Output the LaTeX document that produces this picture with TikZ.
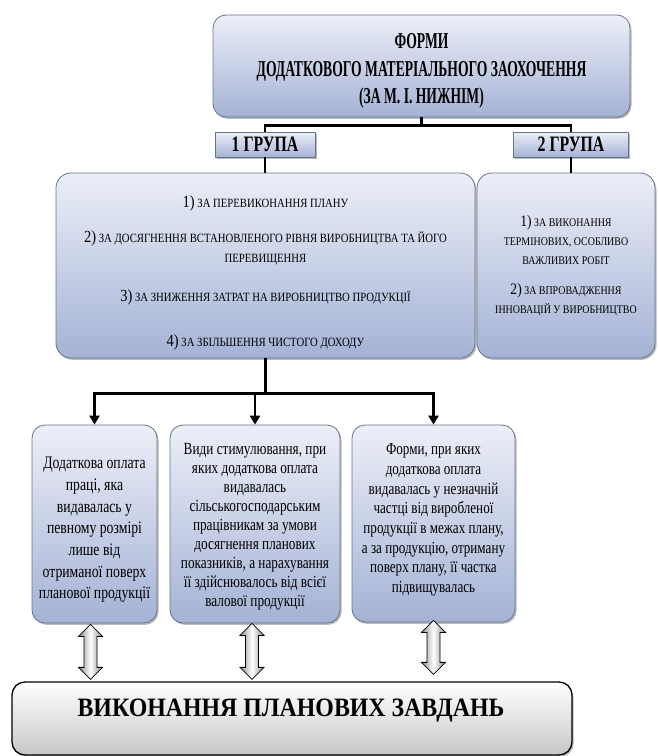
\documentclass[tikz,border=0pt]{standalone}
\usepackage{fontspec}
\setmainfont{Liberation Serif}
\newfontfamily\titlefont{Liberation Serif}[FakeStretch=0.6]
\newfontfamily\grpfont{Liberation Serif}[FakeStretch=0.72]
\newfontfamily\bodyfont{Liberation Serif}[FakeStretch=0.78]
\newfontfamily\capsfont{Liberation Serif}[FakeStretch=0.85]
\newfontfamily\botfont{Liberation Serif}[FakeStretch=0.9]
\usetikzlibrary{shadows,calc,arrows.meta}
\definecolor{btop}{RGB}{236,239,248}
\definecolor{bbot}{RGB}{164,178,213}
\definecolor{bdraw}{RGB}{105,115,135}
\newcommand{\dg}[1]{{\fontsize{17}{20}\selectfont #1}}
\newcommand{\dgs}[1]{{\fontsize{16}{19}\selectfont #1}}
\newcommand{\dblarr}[2]{\draw[dblar] let \p1=(#1), \p2=(#2) in
  (\x1,\y1) -- (\x1-12pt,\y1-12pt) -- (\x1-6.5pt,\y1-12pt) -- (\x1-6.5pt,\y2+12pt)
  -- (\x1-12pt,\y2+12pt) -- (\x1,\y2) -- (\x1+12pt,\y2+12pt) -- (\x1+6.5pt,\y2+12pt)
  -- (\x1+6.5pt,\y1-12pt) -- (\x1+12pt,\y1-12pt) -- cycle;}
\tikzset{
  shad/.style={drop shadow={shadow xshift=1.5pt,shadow yshift=-1.8pt,opacity=0.55}},
  mybox/.style={draw=bdraw, line width=0.8pt, rounded corners=13pt,
    top color=btop, bottom color=bbot, shad, inner sep=0pt},
  grpbox/.style={draw=bdraw, line width=0.8pt, top color=btop, bottom color=bbot,
    shad, inner sep=0pt, font=\grpfont\bfseries\fontsize{22}{24}\selectfont},
  botbox/.style={draw=black, line width=1.3pt, rounded corners=13pt,
    top color=white, bottom color=black!22, shad, inner sep=0pt},
  txt/.style={align=center, inner sep=0pt},
  conn/.style={line width=2.6pt, black},
  arr/.style={conn, -{Triangle[length=9pt,width=10pt]}},
  dblar/.style={draw=black, line width=0.8pt, left color=black!45,
    right color=black!45, middle color=white}
}
\begin{document}
\begin{tikzpicture}[x=1pt,y=-1pt]
\useasboundingbox (0,0) rectangle (658,756);
% boxes
\node[mybox, minimum width=417pt, minimum height=102pt] (title) at (421.5,66) {};
\node[txt, font=\titlefont\bfseries\fontsize{22.7}{27.5}\selectfont] (titlet) at (421.5,71)
  {ФОРМИ\\ДОДАТКОВОГО МАТЕРІАЛЬНОГО ЗАОХОЧЕННЯ\\(ЗА М. І. НИЖНІМ)};
\node[grpbox, minimum width=100pt, minimum height=25pt] (g1) at (265,144.5) {1 ГРУПА};
\node[grpbox, minimum width=115pt, minimum height=25pt] (g2) at (571,144.5) {2 ГРУПА};
\node[mybox, rounded corners=15pt, minimum width=419pt, minimum height=185pt] (big1) at (265.5,265.5) {};
\node[txt, font=\capsfont\fontsize{12.6}{20}\selectfont] (big1t) at (265.5,273)
  {\dg{1)} ЗА ПЕРЕВИКОНАННЯ ПЛАНУ\\[15pt]
   \dg{2)} ЗА ДОСЯГНЕННЯ ВСТАНОВЛЕНОГО РІВНЯ ВИРОБНИЦТВА ТА ЙОГО\\
   ПЕРЕВИЩЕННЯ\\[19pt]
   \dg{3)} ЗА ЗНИЖЕННЯ ЗАТРАТ НА ВИРОБНИЦТВО ПРОДУКЦІЇ\\[25pt]
   \dg{4)} ЗА ЗБІЛЬШЕННЯ ЧИСТОГО ДОХОДУ};
\node[mybox, rounded corners=15pt, minimum width=178pt, minimum height=185pt] (big2) at (566,265.5) {};
\node[txt, font=\capsfont\fontsize{11.7}{19}\selectfont] (big2t) at (566,265.5)
  {\dgs{1)} ЗА ВИКОНАННЯ\\ ТЕРМІНОВИХ, ОСОБЛИВО\\ ВАЖЛИВИХ РОБІТ\\[11pt]
   \dgs{2)} ЗА ВПРОВАДЖЕННЯ\\ ІННОВАЦІЙ У ВИРОБНИЦТВО};
\node[mybox, minimum width=125pt, minimum height=198pt] (A) at (94.5,524) {};
\node[txt, font=\bodyfont\fontsize{17.6}{21.7}\selectfont] (At) at (94.5,530)
  {Додаткова оплата\\праці, яка\\видавалась у\\певному розмірі\\лише від\\отриманої поверх\\планової продукції};
\node[mybox, minimum width=170pt, minimum height=198pt] (B) at (255,524) {};
\node[txt, font=\bodyfont\fontsize{17}{19}\selectfont] (Bt) at (255,527)
  {Види стимулювання, при\\яких додаткова оплата\\видавалась\\сільськогосподарським\\працівникам за умови\\досягнення планових\\показників, а нарахування\\її здійснювалось від всієї\\валової продукції};
\node[mybox, minimum width=163pt, minimum height=197pt] (C) at (433.5,523.5) {};
\node[txt, font=\bodyfont\fontsize{16.8}{19.7}\selectfont] (Ct) at (433.5,520)
  {Форми, при яких\\додаткова оплата\\видавалась у незначній\\частці від виробленої\\продукції в межах плану,\\а за продукцію, отриману\\поверх плану, її частка\\підвищувалась};
\node[botbox, minimum width=560pt, minimum height=73pt] (bot) at (292,718.5) {};
\node[txt, font=\botfont\bfseries\fontsize{26.5}{30}\selectfont] (bott) at (291,711)
  {ВИКОНАННЯ ПЛАНОВИХ ЗАВДАНЬ};
% connectors
\coordinate (tj) at ($(title.south)+(0,8)$);
\draw[conn] (title.south) -- (tj);
\draw[conn] (g1.north) |- (tj) -| (g2.north);
\draw[conn] (g1.south) -- (g1.south |- big1.north);
\draw[conn] (g2.south) -- (g2.south |- big2.north);
\coordinate (bj) at ($(big1.south)+(0,35)$);
\draw[conn] (big1.south) -- (bj);
\draw[arr] (bj) -| (A.north);
\draw[arr] (bj) -| (B.north);
\draw[arr] (bj) -| (C.north);
% double arrows
\dblarr{$(A.south)+(-4,1)$}{$(A.south |- bot.north)+(-4,-2)$}
\dblarr{$(B.south)+(-3,0)$}{$(B.south |- bot.north)+(-3,-2)$}
\dblarr{$(C.south)+(0,-2)$}{$(C.south |- bot.north)+(0,-7)$}
\end{tikzpicture}
\end{document}
